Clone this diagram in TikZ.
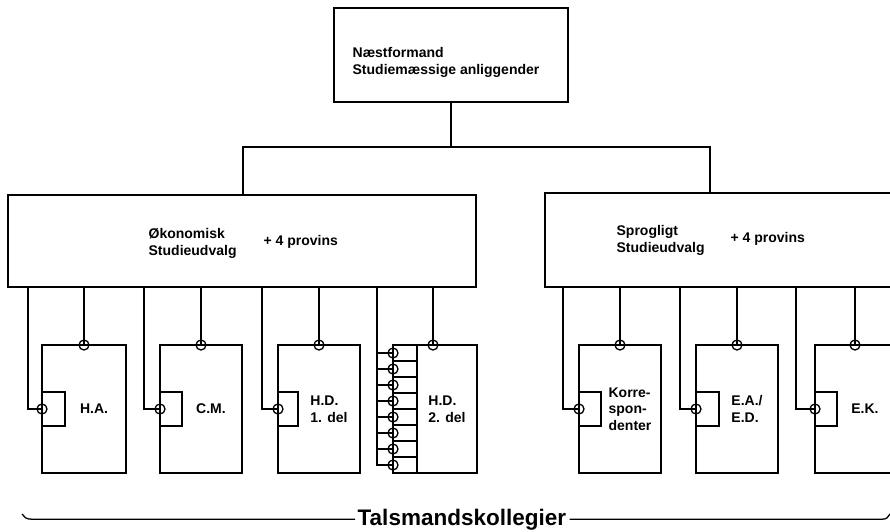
\documentclass[tikz,border=0pt]{standalone}
\usepackage{fontspec}
\setmainfont{Liberation Sans}
\newcommand\mysub[7]{%
  \node[box, minimum width=#3pt, minimum height=128pt] (#1) at (#2,409) {};
  \node[box, minimum width=#5pt, minimum height=34pt, anchor=west] (#1s) at (#1.west) {};
  \node[ring] (#1t) at (#1.north) {};
  \node[ring] (#1r) at (#1.west) {};
  \coordinate (#1f) at (#4,409);
  \draw (#6.south -| #1t) -- (#1t.center);
  \draw (#6.south -| #1f) |- (#1r.center);
  \node[lbl] (#1l) at ([xshift=10pt]#1.center) {#7};
}
\begin{document}
\begin{tikzpicture}[x=1pt,y=-1pt, line width=1.3pt,
  box/.style={draw, rectangle, inner sep=0pt, outer sep=0pt},
  lbl/.style={font=\bfseries\fontsize{14}{16.5}\selectfont, inner sep=0pt, align=left},
  ring/.style={draw, circle, minimum size=10pt, inner sep=0pt, outer sep=0pt}]
\useasboundingbox (0,0) rectangle (890,531);
\fill[white] (0,0) rectangle (890,531);
\clip (0,0) rectangle (890,531);

% top box
\node[box, minimum width=234pt, minimum height=94pt] (top) at (451,55) {};
\node[lbl, anchor=west] (topt) at (352,62.5) {Næstformand\\Studiemæssige anliggender};

% main boxes
\node[box, minimum width=468pt, minimum height=92pt] (oek) at (242,241) {};
\node[box, minimum width=366pt, minimum height=94pt] (spr) at (728,240) {};
\node[lbl, anchor=west] (oekt) at (148,243.5) {Økonomisk\\Studieudvalg};
\node[lbl, anchor=west] (oekp) at (263,241.5) {+ 4 provins};
\node[lbl, anchor=west] (sprt) at (616,240.5) {Sprogligt\\Studieudvalg};
\node[lbl, anchor=west] (sprp) at (730,238.5) {+ 4 provins};

% top connectors
\coordinate (j) at (451,147);
\coordinate (lj) at (243,147);
\coordinate (rj) at (710,147);
\draw (top.south) -- (j);
\draw (oek.north -| lj) -- (lj) -- (rj) -- (spr.north -| rj);

% sub boxes
\mysub{ha}{84}{84}{28}{23}{oek}{H.A.}
\mysub{cm}{201}{82}{144}{22}{oek}{C.M.}
\mysub{hda}{319}{82}{262}{20}{oek}{H.D.\\1. del}
\mysub{ko}{620}{82}{563}{22}{spr}{Korre-\\spon-\\denter}
\mysub{ea}{737}{82}{680}{23}{spr}{E.A./\\E.D.}
\mysub{ek}{855}{80}{796}{22}{spr}{E.K.}

% H.D. 2. del
\node[box, minimum width=60pt, minimum height=128pt] (hdb) at (447,409) {};
\node[box, minimum width=24pt, minimum height=128pt, anchor=east] (hdc) at (hdb.west) {};
\foreach \k in {1,...,7}
  \draw ([yshift={-16pt*\k}]hdc.north west) -- ([yshift={-16pt*\k}]hdc.north east);
\foreach \k in {0,...,7}
  \node[ring] (hdr\k) at ([yshift={-8pt-16pt*\k}]hdc.north west) {};
\coordinate (hdf) at (377,465);
\draw (oek.south -| hdf) |- (hdr7.center);
\foreach \k in {0,...,6}
  \draw (hdf |- hdr\k.center) -- (hdr\k.center);
\coordinate (hdtx) at (433,345);
\node[ring] (hdt) at (hdtx) {};
\draw (oek.south -| hdt) -- (hdt.center);
\node[lbl] (hdl) at (hdb.center) {H.D.\\2. del};

% bottom brace
\node[font=\bfseries\fontsize{22.5}{27}\selectfont, inner sep=0pt, anchor=base west] (tals) at (357,525) {Talsmandskollegier};
\coordinate (blc) at (32,520);
\coordinate (bl) at (22,514);
\coordinate (brc) at (882,520);
\coordinate (br) at (890,514);
\draw ([xshift=-2pt]tals.west) -- (tals.west -| blc) .. controls +(-6,0) and +(2,3) .. (bl);
\draw ([xshift=3pt]tals.east) -- (tals.east -| brc) .. controls +(5,0) and +(-2,3) .. (br);
\end{tikzpicture}
\end{document}
